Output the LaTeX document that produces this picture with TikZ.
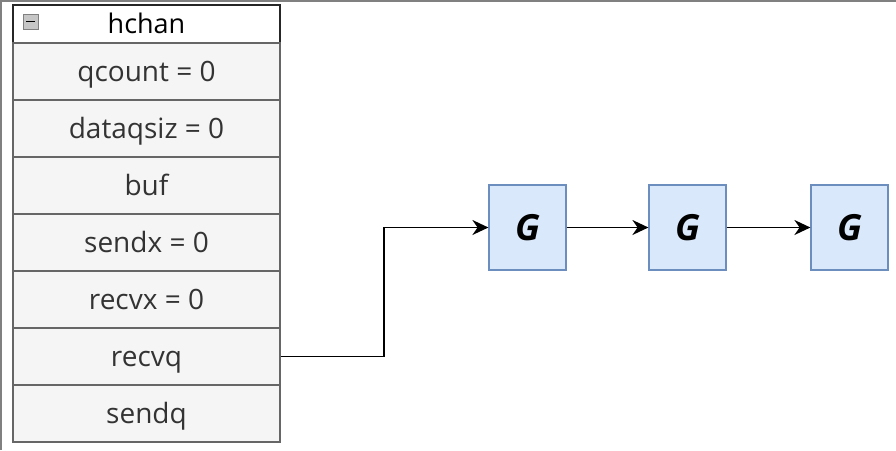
\documentclass[tikz,border=0pt]{standalone}
\usepackage{fontspec}
\setmainfont{Open Sans}
\usetikzlibrary{arrows.meta}
\definecolor{rowfill}{HTML}{F5F5F5}
\definecolor{rowline}{HTML}{666666}
\definecolor{rowtext}{HTML}{333333}
\definecolor{gfill}{HTML}{DAE8FC}
\definecolor{gline}{HTML}{6C8EBF}
\tikzset{
  rowbox/.style={draw=rowline, fill=rowfill, line width=1.2pt, minimum width=267pt, minimum height=57pt, inner sep=0pt, text=rowtext, font=\fontsize{28}{32}\selectfont, text height=19pt, text depth=0pt},
  headbox/.style={draw=black!85, fill=white, line width=1.4pt, minimum width=267pt, minimum height=38pt, inner sep=0pt, text=black, font=\fontsize{27}{30}\selectfont, text height=19pt, text depth=0pt},
  gbox/.style={draw=gline, fill=gfill, line width=1.2pt, minimum width=77pt, minimum height=85pt, inner sep=0pt, font=\fontsize{36}{40}\selectfont\bfseries\itshape, text height=25pt, text depth=0pt},
  link/.style={line width=1.8pt, -{Stealth[length=16pt,width=15pt]}}
}
\begin{document}
\begin{tikzpicture}[x=1pt,y=-1pt]
\useasboundingbox (0,0) rectangle (896,450);
\draw[gray, line width=1.5pt] (1,450) -- (1,0.75) -- (896,0.75);
\node[headbox] (head) at (146.5,24) {hchan};
\node[rowbox] (r1) at (146.5,71.5) {qcount = 0};
\node[rowbox] (r2) at (146.5,128.5) {dataqsiz = 0};
\node[rowbox] (r3) at (146.5,185.5) {buf};
\node[rowbox] (r4) at (146.5,242.5) {sendx = 0};
\node[rowbox] (r5) at (146.5,299.5) {recvx = 0};
\node[rowbox] (r6) at (146.5,356.5) {recvq};
\node[rowbox] (r7) at (146.5,413.5) {sendq};
\node[draw=gray, fill=gray!45, line width=0.8pt, minimum size=15pt, inner sep=0pt] (icon) at (30.5,21.5) {};
\draw[line width=1.4pt] ([xshift=-4.5pt]icon.center) -- ([xshift=4.5pt]icon.center);
\node[gbox] (g1) at (527.5,227.5) {G};
\node[gbox] (g2) at (687.5,227.5) {G};
\node[gbox] (g3) at (849.5,227.5) {G};
\coordinate (bend) at (384,356.5);
\draw[link] (r6.east) -- (bend) |- (g1.west);
\draw[link] (g1) -- (g2);
\draw[link] (g2) -- (g3);
\end{tikzpicture}
\end{document}
